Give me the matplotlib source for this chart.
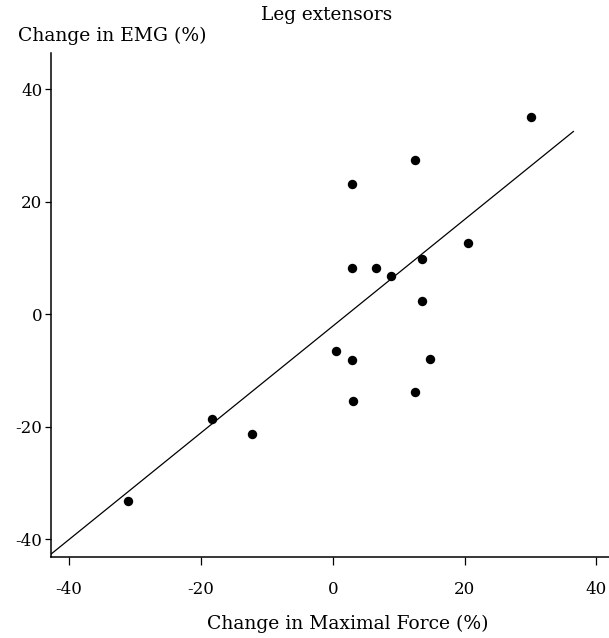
import numpy as np
import matplotlib
matplotlib.use('Agg')
import matplotlib.pyplot as plt

# data (change in %)
force_change = [-31.1, -18.3, -12.3, 0.5, 2.9, 2.9, 2.9, 3.0, 6.5, 8.8,
                12.4, 12.4, 13.5, 13.6, 14.7, 20.5, 30.0]
emg_change = [-33.2, -18.6, -21.3, -6.5, -8.2, 8.3, 23.2, -15.4, 8.3, 6.8,
              27.4, -13.9, 2.4, 9.8, -8.0, 12.6, 35.1]

# regression line as drawn in the figure
fit_slope = 0.948
fit_intercept = -2.1
fit_x_end = 36.5

x_ticks = [-40, -20, 0, 20, 40]
y_ticks = [-40, -20, 0, 20, 40]

plt.rcParams['font.family'] = ['DejaVu Serif']

fig = plt.figure(figsize=(6.09, 6.38), dpi=100)
ax = fig.add_axes([0.0833, 0.1265, 0.9167, 0.790])

xmin, xmax = -42.8, 41.9
ymin, ymax = -43.2, 46.4

ax.scatter(force_change, emg_change, s=46, color='black', zorder=3, linewidths=0)
xs = np.array([xmin, fit_x_end])
ax.plot(xs, fit_intercept + fit_slope * xs, color='black', lw=0.9)

ax.set_xlim(xmin, xmax)
ax.set_ylim(ymin, ymax)
# plain hyphen minus like the original
ax.set_xticks(x_ticks, [str(t) for t in x_ticks])
ax.set_yticks(y_ticks, [str(t) for t in y_ticks])
for s in ['top', 'right']:
    ax.spines[s].set_visible(False)
for s in ['left', 'bottom']:
    ax.spines[s].set_linewidth(1.1)
ax.tick_params(axis='x', length=6, width=0.9, pad=11, labelsize=12)
ax.tick_params(axis='y', length=4.5, width=0.9, pad=1.5, labelsize=12)

fig.text(327 / 609, 1 - 15 / 638, 'Leg extensors', ha='center', va='center', fontsize=13.3)
fig.text(18 / 609, 1 - 36 / 638, 'Change in EMG (%)', ha='left', va='center', fontsize=13.5)
fig.text(348 / 609, 1 - 624 / 638, 'Change in Maximal Force (%)', ha='center', va='center', fontsize=13.5)

fig.savefig('out.png', dpi=100)
